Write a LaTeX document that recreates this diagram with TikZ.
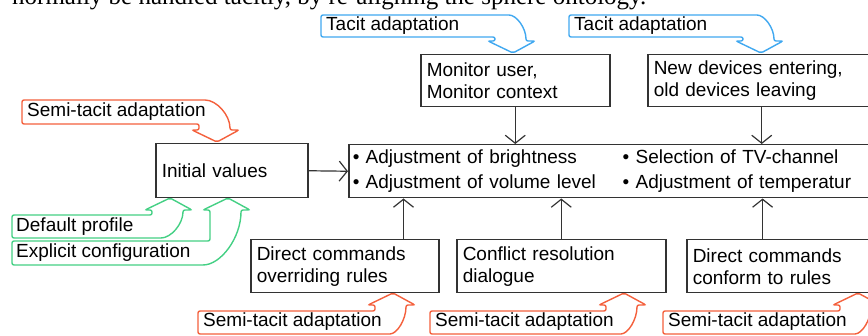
\documentclass[tikz,border=0pt]{standalone}
\usepackage{fontspec}
\setmainfont{Liberation Sans}
\newfontfamily\serifnt{Liberation Serif}
\usetikzlibrary{arrows.meta,calc}
\definecolor{cblue}{HTML}{40A8F0}
\definecolor{corange}{HTML}{F4603C}
\definecolor{cgreen}{HTML}{44D084}
\definecolor{cline}{HTML}{333333}
\newcommand\boxfont{\fontsize{19}{22}\selectfont}
% #1 colour, #2 x0, #3 top, #4 bottom, #5 tip x, #6 tip y, #7 outer end offset
\newcommand\calloutdown[7]{%
  \draw[callout,draw=#1] (#2,#4) -- ({#5-18},#4) -- ({#5-18},{#6-12}) -- ({#5-25},{#6-12})
    -- (#5,#6) -- ({#5+22},{#6-12}) -- ({#5+13},{#6-12})
    .. controls ({#5+13},{(#3+#6-12)/2}) and ({#5+(13-#7)/2},#3) .. ({#5-#7},#3)
    -- (#2,#3) -- cycle;}
\newcommand\calloutup[7]{%
  \draw[callout,draw=#1] (#2,#3) -- ({#5-18},#3) -- ({#5-18},{#6+12}) -- ({#5-25},{#6+12})
    -- (#5,#6) -- ({#5+22},{#6+12}) -- ({#5+13},{#6+12})
    .. controls ({#5+13},{(#4+#6+12)/2}) and ({#5+(13-#7)/2},#4) .. ({#5-#7},#4)
    -- (#2,#4) -- cycle;}
\tikzset{
  box/.style={draw=cline, line width=1.5pt, fill=white, anchor=north west,
    inner xsep=6pt, inner ysep=0pt, align=left, font=\boxfont},
  conn/.style={draw=cline, line width=1.2pt, -{Straight Barb[length=8pt,width=20pt]}},
  callout/.style={line width=1.4pt, fill=white, rounded corners=2pt},
  ctext/.style={anchor=west, inner sep=0pt, font=\boxfont, text=black}
}
\begin{document}
\begin{tikzpicture}[x=1pt, y=-1pt]
\useasboundingbox (0,0) rectangle (868,336);
\clip (0,0) rectangle (868,336);

% surrounding page text
\node[anchor=base west, inner sep=0pt, font=\serifnt\fontsize{25}{25}\selectfont] (page) at (12,5)
  {normally be handled tacitly, by re-aligning the sphere ontology.};

% callouts
\calloutdown{cblue}{321}{15}{37}{513}{53}{6}
\node[ctext] (t1) at (326,26) {Tacit adaptation};
\calloutdown{cblue}{569}{15}{37}{761}{53}{6}
\node[ctext] (t2) at (574,26) {Tacit adaptation};
\calloutdown{corange}{22}{100}{124}{217}{142}{14}
\node[ctext] (t3) at (27,112) {Semi-tacit adaptation};
\calloutup{cgreen}{12}{241}{265}{228}{198}{27}
\node[ctext] (t5) at (16,253) {Explicit configuration};
\calloutup{cgreen}{12}{215}{238}{170}{198}{11}
\node[ctext] (t4) at (16,227) {Default profile};
\calloutup{corange}{198}{311}{334}{393}{293}{5}
\node[ctext] (t6) at (203,322) {Semi-tacit adaptation};
\calloutup{corange}{430}{311}{334}{624}{293}{5}
\node[ctext] (t7) at (435,322) {Semi-tacit adaptation};
\calloutup{corange}{663}{311}{334}{858}{293}{5}
\node[ctext] (t8) at (668,322) {Semi-tacit adaptation};

% boxes
\node[box, text width=177pt, minimum height=52pt] (mon) at (420,54)
  {Monitor user,\\Monitor context};
\node[box, text width=216pt, minimum height=52pt] (newd) at (647,54)
  {New devices entering,\\old devices leaving};
\node[box, text width=140pt, minimum height=54pt] (init) at (155,143)
  {Initial values};
\node[box, text width=552pt, minimum height=53pt, inner xsep=4pt,
      font=\fontsize{19}{25}\selectfont] (main) at (348,144)
  {\makebox[270pt][l]{• Adjustment of brightness}• Selection of TV-channel\\
   \makebox[270pt][l]{• Adjustment of volume level}• Adjustment of temperatur};
\node[box, text width=176pt, minimum height=53pt] (ovr) at (250,239)
  {Direct commands\\overriding rules};
\node[box, text width=197pt, minimum height=53pt] (conf) at (456,239)
  {Conflict resolution\\dialogue};
\node[box, text width=188pt, minimum height=53pt] (cfm) at (686,239)
  {Direct commands\\conform to rules};

% connectors
\draw[conn] (init.east) -- (main.west);
\draw[conn] (mon.south) -- (mon.south |- main.north);
\draw[conn] (newd.south) -- (newd.south |- main.north);
\draw[conn] ($(ovr.north west)!0.81!(ovr.north east)$) coordinate (o1) -- (o1 |- main.south);
\draw[conn] (conf.north) -- (conf.north |- main.south);
\draw[conn] ($(cfm.north west)!0.38!(cfm.north east)$) coordinate (o3) -- (o3 |- main.south);
\end{tikzpicture}
\end{document}
